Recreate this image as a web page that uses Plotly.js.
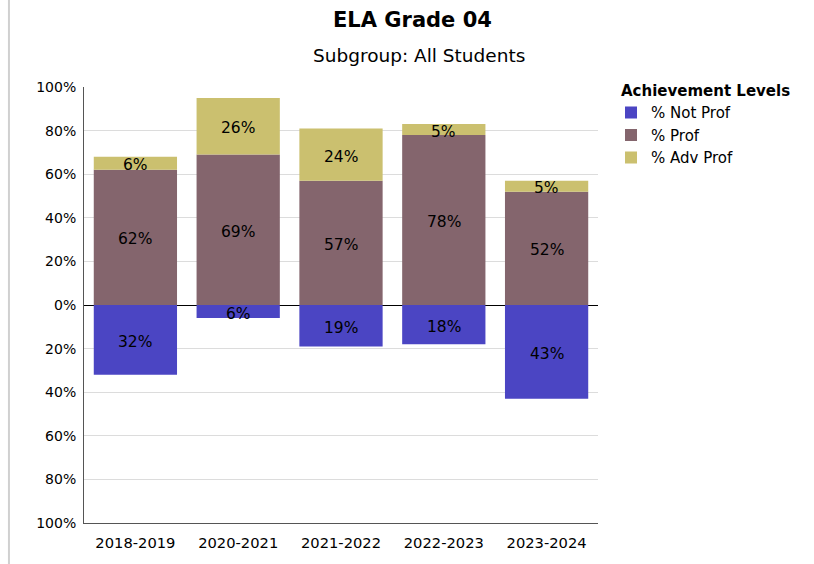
<!DOCTYPE html>
<html>
<head>
<meta charset="utf-8">
<script src="https://cdn.plot.ly/plotly-3.0.1.min.js"></script>
<style>
  html, body { margin: 0; padding: 0; background: #fff; }
  #chart { width: 814px; height: 564px; }
</style>
</head>
<body>
<div id="chart"></div>
<script>
const years = ["2018-2019", "2020-2021", "2021-2022", "2022-2023", "2023-2024"];
const notProf = [32, 6, 19, 18, 43];
const prof = [62, 69, 57, 78, 52];
const advProf = [6, 26, 24, 5, 5];
const tickValues = [100, 80, 60, 40, 20, 0, -20, -40, -60, -80, -100];
const tickLabels = ["100%", "80%", "60%", "40%", "20%", "0%", "20%", "40%", "60%", "80%", "100%"];

const colors = { notProf: "#4B45C3", prof: "#84656D", adv: "#CBC06F" };
const FONT = "DejaVu Sans, Verdana, sans-serif";

const traces = [
  { type: "bar", name: "% Not Prof", x: years, y: notProf.map(v => -v),
    marker: { color: colors.notProf }, hoverinfo: "skip" },
  { type: "bar", name: "% Prof", x: years, y: prof,
    marker: { color: colors.prof }, hoverinfo: "skip" },
  { type: "bar", name: "% Adv Prof", x: years, y: advProf,
    marker: { color: colors.adv }, hoverinfo: "skip" }
];

// value labels centred in each segment
const labelAnns = [];
years.forEach((yr, i) => {
  [[-notProf[i] / 2, notProf[i]],
   [prof[i] / 2, prof[i]],
   [prof[i] + advProf[i] / 2, advProf[i]]].forEach(([yc, v]) => {
    labelAnns.push({ x: yr, y: yc, xref: "x", yref: "y", text: v + "%", showarrow: false,
      yshift: -2, font: { family: FONT, size: 15.5, color: "#000" } });
  });
});

const layout = {
  width: 814, height: 564,
  margin: { l: 84, r: 216, t: 87, b: 41 },
  paper_bgcolor: "#fff", plot_bgcolor: "#fff",
  barmode: "relative", bargap: 0.19,
  font: { family: FONT, size: 14, color: "#000" },
  xaxis: { showgrid: false, zeroline: false, showline: true, linecolor: "#555", linewidth: 1,
           ticks: "", ticklabelstandoff: 6,
           tickfont: { family: FONT, size: 14.7 }, fixedrange: true },
  yaxis: { range: [-100, 100], tickvals: tickValues, ticktext: tickLabels,
           showgrid: true, gridcolor: "#dcdcdc", gridwidth: 1,
           zeroline: true, zerolinecolor: "#000", zerolinewidth: 1,
           showline: true, linecolor: "#555", linewidth: 1, ticks: "",
           ticklabelstandoff: 4,
           tickfont: { family: FONT, size: 14 }, fixedrange: true },
  legend: { x: 1.0253, xanchor: "left", y: 0.979, yanchor: "top",
            font: { family: FONT, size: 15 }, traceorder: "normal", tracegroupgap: 0,
            itemwidth: 30 },
  annotations: labelAnns.concat([
    { text: "<b>ELA Grade 04</b>", xref: "paper", yref: "paper", x: 0.640, y: 1.1537,
      xanchor: "center", yanchor: "middle", showarrow: false,
      font: { family: FONT, size: 21, color: "#000" } },
    { text: "Subgroup: All Students", xref: "paper", yref: "paper", x: 0.652, y: 1.0714,
      xanchor: "center", yanchor: "middle", showarrow: false,
      font: { family: FONT, size: 18.5, color: "#000" } },
    { text: "<b>Achievement Levels</b>", xref: "paper", yref: "paper", x: 1.0408, y: 0.991,
      xanchor: "left", yanchor: "middle", showarrow: false,
      font: { family: FONT, size: 15, color: "#000" } }
  ]),
  shapes: [
    { type: "line", xref: "paper", yref: "paper", x0: -0.146, x1: -0.146, y0: -0.1, y1: 1.21,
      line: { color: "#d0d0d0", width: 2 } }
  ]
};

Plotly.newPlot("chart", traces, layout, { displayModeBar: false, staticPlot: true });
</script>
</body>
</html>
